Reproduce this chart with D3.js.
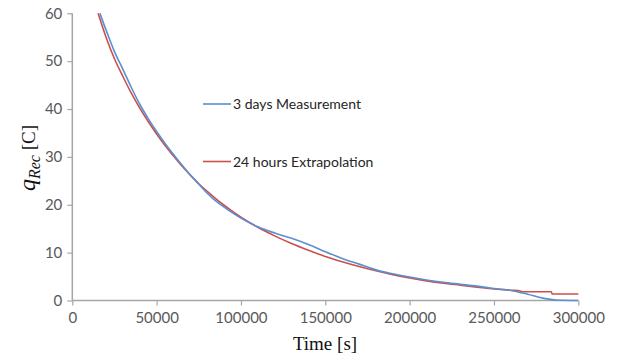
<!DOCTYPE html>
<html>
<head>
<meta charset="utf-8">
<script src="https://cdn.jsdelivr.net/npm/d3@7"></script>
<style>
  html, body { margin: 0; padding: 0; background: #ffffff; }
  svg { display: block; }
</style>
</head>
<body>
<svg id="chart" width="619" height="356"></svg>
<script>
// Recovered charge over time: 3-day measurement vs. 24-hour extrapolation
const xTicks = [0, 50000, 100000, 150000, 200000, 250000, 300000];
const yTicks = [0, 10, 20, 30, 40, 50, 60];

const measuredTime = [16400, 20000, 25000, 30000, 35000, 40000, 45000, 50000, 55000, 60000,
  65000, 70000, 75000, 80000, 85000, 90000, 95000, 100000, 110000, 120000, 130000, 140000,
  150000, 160000, 170000, 180000, 190000, 200000, 210000, 220000, 230000, 240000, 250000,
  260000, 270000, 279000, 287000, 300000];
const measuredCharge = [60, 56.5, 52, 48.3, 44.5, 41, 38, 35.3, 32.8, 30.5,
  28.3, 26.2, 24.3, 22.4, 20.8, 19.5, 18.3, 17.2, 15.4, 14.1, 13.0, 11.7,
  10.2, 8.8, 7.6, 6.4, 5.6, 4.9, 4.3, 3.8, 3.4, 3.0, 2.5,
  2.1, 1.3, 0.5, 0.1, 0.0];

const extrapTime = [15300, 20000, 25000, 30000, 35000, 40000, 45000, 50000, 55000, 60000,
  65000, 70000, 75000, 80000, 85000, 90000, 95000, 100000, 110000, 120000, 130000, 140000,
  150000, 160000, 170000, 180000, 190000, 200000, 210000, 220000, 230000, 240000, 250000,
  260000, 266000, 267000, 284000, 284500, 300000];
const extrapCharge = [60, 55, 50.5, 46.8, 43.3, 40.2, 37.4, 34.8, 32.4, 30.2,
  28.1, 26.2, 24.4, 22.8, 21.3, 19.9, 18.6, 17.4, 15.3, 13.5, 11.9, 10.5,
  9.2, 8.1, 7.1, 6.2, 5.4, 4.7, 4.1, 3.6, 3.2, 2.8, 2.4,
  2.15, 1.95, 1.84, 1.84, 1.36, 1.36];

const seriesNames = ["3 days Measurement", "24 hours Extrapolation"];
const seriesColors = ["#5b8fd0", "#c9504d"];

const svg = d3.select("#chart");
const x = d3.scaleLinear().domain([0, 300000]).range([72.3, 578.3]);
const y = d3.scaleLinear().domain([0, 60]).range([300.5, 13.3]);

const axisColor = "#a6a6a6";
const labelColor = "#595959";
const tickFont = "Lato, 'Open Sans', sans-serif";

// Y axis
const yAxis = svg.append("g")
  .attr("transform", `translate(${x(0)},0)`)
  .call(d3.axisLeft(y).tickValues(yTicks).tickSize(5).tickPadding(5).tickFormat(d3.format("d")));
// X axis
const xAxis = svg.append("g")
  .attr("transform", `translate(0,${y(0)})`)
  .call(d3.axisBottom(x).tickValues(xTicks).tickSize(5).tickPadding(7).tickFormat(d3.format("d")));

[yAxis, xAxis].forEach(g => {
  g.select(".domain").attr("stroke", axisColor).attr("stroke-width", 1.5);
  g.selectAll(".tick line").attr("stroke", axisColor).attr("stroke-width", 1.2);
  g.selectAll(".tick text")
    .attr("fill", labelColor)
    .style("font-family", tickFont)
    .style("font-size", "15px");
});
xAxis.select(".domain").attr("d", `M${x(0)},0H${x(300000)}`);
yAxis.select(".domain").attr("d", `M0,${y(60)}V${y(0)}`);

// Series lines
const series = [
  { t: extrapTime, q: extrapCharge, color: seriesColors[1] },
  { t: measuredTime, q: measuredCharge, color: seriesColors[0] }
];
const line = d3.line()
  .x(d => x(d[0]))
  .y(d => y(d[1]))
  .curve(d3.curveMonotoneX);

series.forEach(s => {
  svg.append("path")
    .datum(s.t.map((t, i) => [t, s.q[i]]))
    .attr("fill", "none")
    .attr("stroke", s.color)
    .attr("stroke-width", 1.6)
    .attr("d", line);
});

// Legend
const legendY = [104, 161.5];
seriesNames.forEach((name, i) => {
  svg.append("line")
    .attr("x1", 203).attr("x2", 231)
    .attr("y1", legendY[i]).attr("y2", legendY[i])
    .attr("stroke", seriesColors[i]).attr("stroke-width", 1.6);
  svg.append("text")
    .attr("x", 233).attr("y", legendY[i] + 5)
    .attr("fill", "#262626")
    .style("font-family", tickFont)
    .style("font-size", "14px")
    .text(name);
});

// Axis titles
svg.append("text")
  .attr("x", 325).attr("y", 350)
  .attr("text-anchor", "middle")
  .style("font-family", "'Liberation Serif', 'Times New Roman', serif")
  .style("font-size", "19px")
  .attr("fill", "#111")
  .text("Time [s]");

const yTitle = svg.append("text")
  .attr("transform", "translate(35,158) rotate(-90)")
  .attr("text-anchor", "middle")
  .style("font-family", "'Liberation Serif', 'Times New Roman', serif")
  .attr("fill", "#111");
yTitle.append("tspan").style("font-style", "italic").style("font-size", "24px").text("q");
yTitle.append("tspan").style("font-style", "italic").style("font-size", "16px").attr("dy", 5).text("Rec");
yTitle.append("tspan").style("font-size", "19px").attr("dy", -5).text(" [C]");
</script>
</body>
</html>
